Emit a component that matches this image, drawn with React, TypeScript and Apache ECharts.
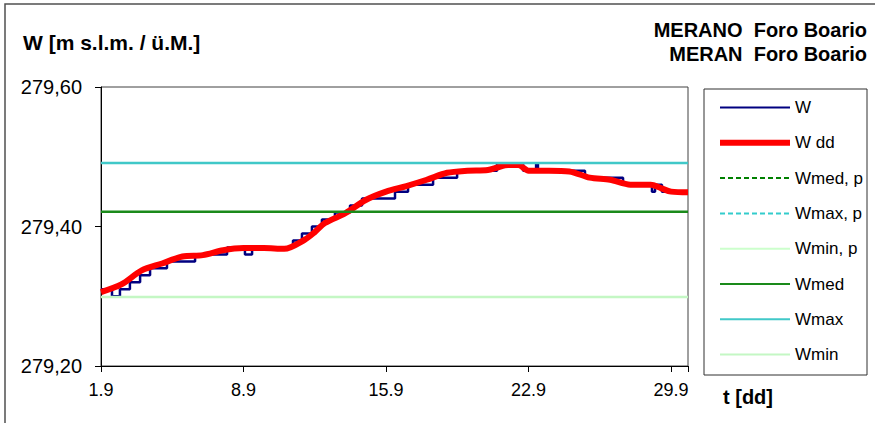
import React, { useEffect, useRef } from "react";
import * as echarts from "echarts";

// ---- data ----
const xTickDays = [0, 7, 14, 21, 28];
const xTickLabels = ["1.9", "8.9", "15.9", "22.9", "29.9"];
const xMax = 28.83;

const wddDays = [0, 1, 2, 3, 4, 5, 6, 7, 8, 9, 10, 10.5, 11, 12, 13, 14, 15, 16, 17, 18, 19, 19.5, 20, 20.5, 21, 22, 23, 24, 25, 26, 27, 27.5, 28, 28.83];
const wddValues = [279.306, 279.317, 279.337, 279.347, 279.357, 279.359, 279.366, 279.369, 279.369, 279.368, 279.381, 279.392, 279.405, 279.419, 279.438, 279.45, 279.458, 279.467, 279.477, 279.48, 279.481, 279.485, 279.488, 279.488, 279.48, 279.48, 279.479, 279.47, 279.467, 279.46, 279.46, 279.455, 279.45, 279.449];

const wDays = [0, 0.54, 0.93, 1.42, 1.92, 2.41, 3.24, 4.62, 6.19, 7.07, 7.42, 9.43, 9.87, 10.36, 10.85, 11.49, 12.23, 12.82, 14.44, 15.08, 16.31, 17.49, 19.45, 20.73, 21.37, 21.46, 23.77, 25.64, 27.06, 27.21, 27.55, 28.83];
const wValues = [279.31, 279.3, 279.31, 279.32, 279.33, 279.34, 279.35, 279.36, 279.37, 279.36, 279.37, 279.38, 279.39, 279.4, 279.41, 279.42, 279.43, 279.44, 279.45, 279.46, 279.47, 279.48, 279.49, 279.48, 279.49, 279.48, 279.47, 279.46, 279.45, 279.46, 279.45, 279.45];

const wMed = 279.421;
const wMax = 279.491;
const wMin = 279.299;

const yMin = 279.2;
const yMax = 279.6;
const yInterval = 0.2;

const legendNames = ["W", "W dd", "Wmed, p", "Wmax, p", "Wmin, p", "Wmed", "Wmax", "Wmin"];

const FONT = "'Liberation Sans', Arial, sans-serif";
const NARROW = "'Liberation Sans Narrow', 'Arial Narrow', 'Liberation Sans', sans-serif";

export default function App() {
  const ref = useRef<HTMLDivElement>(null);
  useEffect(() => {
    if (!ref.current) return;
    const chart = echarts.init(ref.current, null, { renderer: "svg" });
    const pair = (d: number[], v: number[]) => d.map((x, i) => [x, v[i]]);
    const hline = (v: number) => [[0, v], [xMax, v]];
    const option: any = {
      animation: false,
      backgroundColor: "#ffffff",
      grid: {
        left: 101,
        right: 875 - 688,
        top: 87,
        bottom: 423 - 366,
        show: true,
        borderColor: "#404040",
        borderWidth: 1,
      },
      xAxis: {
        type: "value",
        min: 0,
        max: xMax,
        interval: 7,
        splitLine: { show: false },
        axisLine: { lineStyle: { color: "#000", width: 1 } },
        axisTick: { show: true, length: 6, lineStyle: { color: "#000" } },
        axisLabel: {
          margin: 15,
          fontSize: 18,
          color: "#000",
          fontFamily: NARROW,
          formatter: (v: number) => {
            const i = xTickDays.findIndex((d) => Math.abs(d - v) < 1e-6);
            return i >= 0 ? xTickLabels[i] : "";
          },
        },
      },
      yAxis: {
        type: "value",
        min: yMin,
        max: yMax,
        interval: yInterval,
        splitLine: { show: false },
        axisLine: { show: true, lineStyle: { color: "#000", width: 1 } },
        axisTick: { show: true, length: 6, lineStyle: { color: "#000" } },
        axisLabel: {
          margin: 19,
          fontSize: 20,
          color: "#000",
          fontFamily: FONT,
          formatter: (v: number) => v.toFixed(2).replace(".", ","),
        },
      },
      legend: {
        orient: "vertical",
        left: 717,
        top: 99,
        padding: 0,
        itemWidth: 70,
        itemHeight: 14,
        itemGap: 18.3,
        data: legendNames.map((n) =>
          n === "W dd" ? { name: n, lineStyle: { width: 6 } } : { name: n }
        ),
        itemStyle: { opacity: 0 },
        textStyle: { fontSize: 17, color: "#000", fontFamily: FONT },
      },
      graphic: [
        { type: "rect", shape: { x: 5, y: 4, width: 1000, height: 600 }, style: { fill: "none", stroke: "#505050", lineWidth: 1.5 }, silent: true, z: -10 },
        { type: "rect", shape: { x: 704, y: 89, width: 163, height: 286 }, style: { fill: "none", stroke: "#303030", lineWidth: 1 }, silent: true },
        { type: "text", left: 23, top: 32, style: { text: "W [m s.l.m. / ü.M.]", fontSize: 21, fontWeight: "bold", fill: "#000", fontFamily: FONT } },
        { type: "text", right: 875 - 867, top: 20, style: { text: "MERANO  Foro Boario", fontSize: 20, fontWeight: "bold", fill: "#000", fontFamily: FONT, align: "right" } },
        { type: "text", right: 875 - 867, top: 44, style: { text: "MERAN  Foro Boario", fontSize: 20, fontWeight: "bold", fill: "#000", fontFamily: FONT, align: "right" } },
        { type: "text", left: 723, top: 387, style: { text: "t [dd]", fontSize: 20, fontWeight: "bold", fill: "#000", fontFamily: FONT } },
      ],
      series: [
        { name: "W", type: "line", step: "end", symbol: "none", data: pair(wDays, wValues), lineStyle: { color: "#000080", width: 2.5 }, itemStyle: { color: "#000080" }, z: 2 },
        { name: "W dd", type: "line", smooth: 0.3, symbol: "none", data: pair(wddDays, wddValues), lineStyle: { color: "#ff0000", width: 6 }, itemStyle: { color: "#ff0000" }, z: 3 },
        { name: "Wmed, p", type: "line", symbol: "none", data: [], lineStyle: { color: "#008000", width: 2, type: [5, 3] }, itemStyle: { color: "#008000" } },
        { name: "Wmax, p", type: "line", symbol: "none", data: [], lineStyle: { color: "#33cccc", width: 2, type: [5, 3] }, itemStyle: { color: "#33cccc" } },
        { name: "Wmin, p", type: "line", symbol: "none", data: [], lineStyle: { color: "#ccffcc", width: 2 }, itemStyle: { color: "#ccffcc" } },
        { name: "Wmed", type: "line", symbol: "none", data: hline(wMed), lineStyle: { color: "#1a8a1a", width: 2.5 }, itemStyle: { color: "#1a8a1a" }, z: 4 },
        { name: "Wmax", type: "line", symbol: "none", data: hline(wMax), lineStyle: { color: "#40c8c8", width: 2.5 }, itemStyle: { color: "#40c8c8" }, z: 4 },
        { name: "Wmin", type: "line", symbol: "none", data: hline(wMin), lineStyle: { color: "#c4f7c4", width: 2.5 }, itemStyle: { color: "#c4f7c4" }, z: 4 },
      ],
    };
    chart.setOption(option);
    return () => chart.dispose();
  }, []);
  return (
    <div
      ref={ref}
      style={{ position: "absolute", left: 0, top: 0, width: 875, height: 423 }}
    />
  );
}
